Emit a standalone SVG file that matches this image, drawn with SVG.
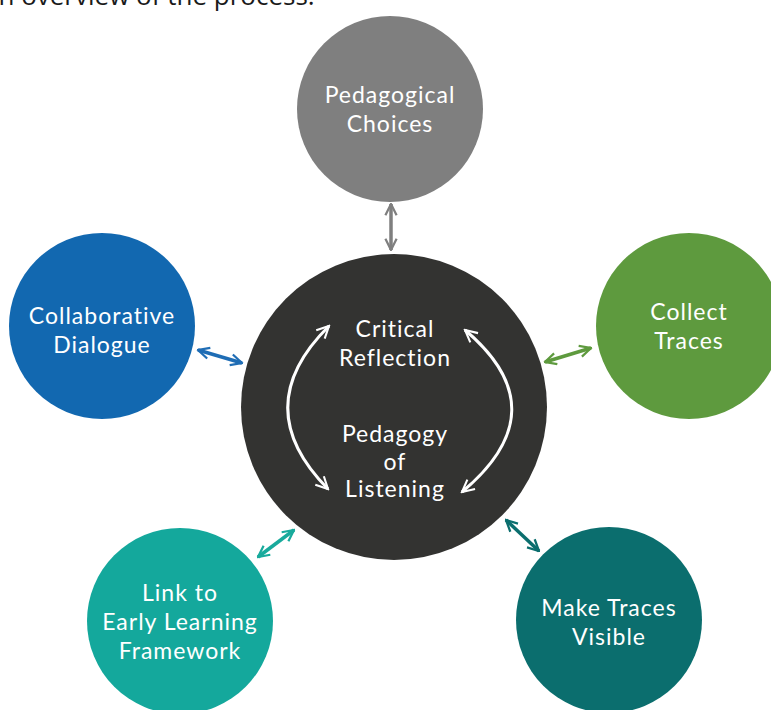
<svg xmlns="http://www.w3.org/2000/svg" width="771" height="710" viewBox="0 0 771 710">
<defs>
<style>
.lbl{font-family:"Lato","Open Sans","Liberation Sans",sans-serif;font-size:23px;letter-spacing:1px;fill:#ffffff;text-anchor:middle}
.cap{font-family:"Open Sans","Liberation Sans",sans-serif;font-size:26px;fill:#1a1a1a}
.conn{fill:none;stroke-width:3.5}
</style>
<marker id="mg" viewBox="0 0 10 10" refX="9" refY="5" markerWidth="4" markerHeight="4" orient="auto-start-reverse" markerUnits="strokeWidth"><polyline points="1,1 9,5 1,9" fill="none" stroke="#7f7f7f" stroke-width="1.6"/></marker>
<marker id="mb" viewBox="0 0 10 10" refX="9" refY="5" markerWidth="4" markerHeight="4" orient="auto-start-reverse" markerUnits="strokeWidth"><polyline points="1,1 9,5 1,9" fill="none" stroke="#1f6db5" stroke-width="1.6"/></marker>
<marker id="mgr" viewBox="0 0 10 10" refX="9" refY="5" markerWidth="4" markerHeight="4" orient="auto-start-reverse" markerUnits="strokeWidth"><polyline points="1,1 9,5 1,9" fill="none" stroke="#5e9a3e" stroke-width="1.6"/></marker>
<marker id="mt" viewBox="0 0 10 10" refX="9" refY="5" markerWidth="4" markerHeight="4" orient="auto-start-reverse" markerUnits="strokeWidth"><polyline points="1,1 9,5 1,9" fill="none" stroke="#18aa9c" stroke-width="1.6"/></marker>
<marker id="md" viewBox="0 0 10 10" refX="9" refY="5" markerWidth="4" markerHeight="4" orient="auto-start-reverse" markerUnits="strokeWidth"><polyline points="1,1 9,5 1,9" fill="none" stroke="#0b6e6e" stroke-width="1.6"/></marker>
<marker id="mw" viewBox="0 0 10 10" refX="9" refY="5" markerWidth="5" markerHeight="5" orient="auto-start-reverse" markerUnits="strokeWidth"><polyline points="1,1 9,5 1,9" fill="none" stroke="#ffffff" stroke-width="1.4"/></marker>
</defs>
<rect width="771" height="710" fill="#ffffff"/>
<text class="cap" x="-16" y="5">an overview of the process.</text>

<g id="connectors">
<line class="conn" x1="391" y1="204" x2="391" y2="250" stroke="#7f7f7f" marker-start="url(#mg)" marker-end="url(#mg)"/>
<line class="conn" x1="198" y1="350" x2="242" y2="363" stroke="#1f6db5" marker-start="url(#mb)" marker-end="url(#mb)"/>
<line class="conn" x1="545" y1="362" x2="591" y2="348" stroke="#5e9a3e" marker-start="url(#mgr)" marker-end="url(#mgr)"/>
<line class="conn" x1="258" y1="557" x2="294" y2="530" stroke="#18aa9c" marker-start="url(#mt)" marker-end="url(#mt)"/>
<line class="conn" x1="506" y1="520" x2="539" y2="551" stroke="#0b6e6e" marker-start="url(#md)" marker-end="url(#md)"/>
</g>

<g id="node-choices">
<circle cx="390" cy="109" r="93" fill="#7f7f7f"/>
<text class="lbl" x="390" y="103">Pedagogical</text>
<text class="lbl" x="390" y="132">Choices</text>
</g>

<g id="node-dialogue">
<circle cx="102" cy="326" r="93" fill="#1268b0"/>
<text class="lbl" x="102" y="324">Collaborative</text>
<text class="lbl" x="102" y="353">Dialogue</text>
</g>

<g id="node-collect">
<circle cx="689" cy="326" r="93" fill="#5e9a3e"/>
<text class="lbl" x="689" y="320">Collect</text>
<text class="lbl" x="689" y="349">Traces</text>
</g>

<g id="node-link">
<circle cx="180" cy="621" r="93" fill="#14a89c"/>
<text class="lbl" x="180" y="601">Link to</text>
<text class="lbl" x="180" y="630">Early Learning</text>
<text class="lbl" x="180" y="659">Framework</text>
</g>

<g id="node-visible">
<circle cx="609" cy="620" r="93" fill="#0b6e6e"/>
<text class="lbl" x="609" y="616">Make Traces</text>
<text class="lbl" x="609" y="645">Visible</text>
</g>

<g id="node-center">
<circle cx="394" cy="407" r="153" fill="#333331"/>
<path d="M329,326 Q247,407 328,489" fill="none" stroke="#ffffff" stroke-width="3" marker-start="url(#mw)" marker-end="url(#mw)"/>
<path d="M465,330 Q560,410 462,492" fill="none" stroke="#ffffff" stroke-width="3" marker-start="url(#mw)" marker-end="url(#mw)"/>
<text class="lbl" x="395" y="337">Critical</text>
<text class="lbl" x="395" y="366">Reflection</text>
<text class="lbl" x="395" y="442">Pedagogy</text>
<text class="lbl" x="395" y="470">of</text>
<text class="lbl" x="395" y="497">Listening</text>
</g>
</svg>
